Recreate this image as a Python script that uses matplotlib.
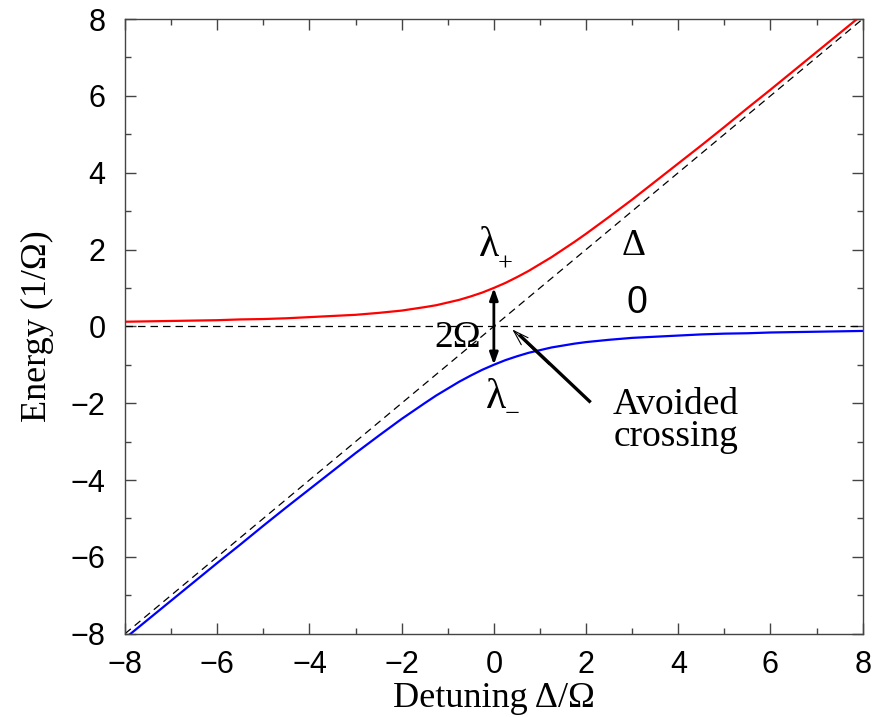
import matplotlib
matplotlib.use("Agg")
import matplotlib.pyplot as plt
from matplotlib.ticker import MultipleLocator

plt.rcParams['mathtext.fontset'] = 'stix'

# detuning values (units of Omega) and the two dressed-state energies
detuning = [-8, -7.5, -7, -6.5, -6, -5.5, -5, -4.5, -4, -3.5, -3, -2.5, -2, -1.5,
            -1.25, -1, -0.75, -0.5, -0.25, 0, 0.25, 0.5, 0.75, 1, 1.25, 1.5, 1.75,
            2, 2.5, 3, 3.5, 4, 4.5, 5, 5.5, 6, 6.5, 7, 7.5, 8]
lam_plus = [0.12, 0.13, 0.14, 0.15, 0.16, 0.18, 0.19, 0.21, 0.24, 0.27, 0.30, 0.35, 0.41, 0.50,
            0.55, 0.62, 0.69, 0.78, 0.88, 1.00, 1.13, 1.28, 1.44, 1.62, 1.80, 2.00, 2.20,
            2.41, 2.85, 3.30, 3.77, 4.24, 4.71, 5.19, 5.68, 6.16, 6.65, 7.14, 7.63, 8.12]
lam_minus = [-8.12, -7.63, -7.14, -6.65, -6.16, -5.68, -5.19, -4.71, -4.24, -3.77, -3.30, -2.85, -2.41, -2.00,
             -1.80, -1.62, -1.44, -1.28, -1.13, -1.00, -0.88, -0.78, -0.69, -0.62, -0.55, -0.50, -0.45,
             -0.41, -0.35, -0.30, -0.27, -0.24, -0.21, -0.19, -0.18, -0.16, -0.15, -0.14, -0.13, -0.12]

# bare-state guide lines
bare_x = [-8, 8]
bare_delta = [-8, 8]
bare_zero = [0, 0]

fig = plt.figure(figsize=(8.83, 7.17), dpi=100)
ax = fig.add_axes([0.1416, 0.1162, 0.8354, 0.8573])

ax.plot(bare_x, bare_zero, color='black', lw=0.9, dashes=(6, 4))
ax.plot(bare_x, bare_delta, color='black', lw=0.9, dashes=(6, 4))
ax.plot(detuning, lam_plus, color='#ff0000', lw=1.6)
ax.plot(detuning, lam_minus, color='#0000ff', lw=1.6)

ax.set_xlim(-8, 8)
ax.set_ylim(-8, 8)
ax.xaxis.set_major_locator(MultipleLocator(2))
ax.xaxis.set_minor_locator(MultipleLocator(1))
ax.yaxis.set_major_locator(MultipleLocator(2))
ax.yaxis.set_minor_locator(MultipleLocator(1))
ax.tick_params(which='both', direction='in', top=True, right=True, color='#444444', width=1)
ax.tick_params(which='major', length=8, labelsize=22)
ax.tick_params(axis='y', which='major', pad=14)
ax.tick_params(axis='x', which='major', pad=12)
ax.tick_params(which='minor', length=4)
for lab in ax.get_xticklabels() + ax.get_yticklabels():
    lab.set_family('Liberation Sans')
for s in ax.spines.values():
    s.set_color('#444444')
    s.set_linewidth(1)

serif = 'Liberation Serif'
ax.set_xlabel('Detuning Δ/Ω', family=serif, fontsize=26, labelpad=1)
ax.set_ylabel('Energy (1/Ω)', family=serif, fontsize=26, labelpad=12)

# 2 Omega gap
ax.annotate('', xy=(0, 1.0), xytext=(0, -1.0),
            arrowprops=dict(arrowstyle='<|-|>,head_length=0.7,head_width=0.25',
                            color='black', lw=2, shrinkA=0, shrinkB=0))
ax.text(-0.78, -0.3, '2Ω', family=serif, fontsize=27, ha='center', va='center')

# dressed-state labels
ax.text(-0.1, 2.1, 'λ', family=serif, fontsize=30, ha='center', va='center')
ax.text(0.25, 1.6, '+', family=serif, fontsize=19, ha='center', va='center')
ax.text(0.04, -1.87, 'λ', family=serif, fontsize=30, ha='center', va='center')
ax.text(0.39, -2.3, '−', family=serif, fontsize=19, ha='center', va='center')
ax.text(3.03, 2.09, 'Δ', family=serif, fontsize=27, ha='center', va='center')
ax.text(3.1, 0.62, '0', family='Liberation Sans', fontsize=27, ha='center', va='center')

# avoided crossing pointer
ax.plot([2.1, 0.55], [-1.98, -0.22], color='black', lw=2.4, solid_capstyle='butt')
ax.annotate('', xy=(0.4, -0.08), xytext=(1.2, -1.0),
            arrowprops=dict(arrowstyle='->,head_length=1.1,head_width=0.35',
                            color='black', lw=0.8, shrinkA=0, shrinkB=0))
ax.text(3.95, -2.45, 'Avoided\ncrossing', family=serif, fontsize=27,
        ha='center', va='center', linespacing=0.9)

fig.savefig('out.png', dpi=100)
